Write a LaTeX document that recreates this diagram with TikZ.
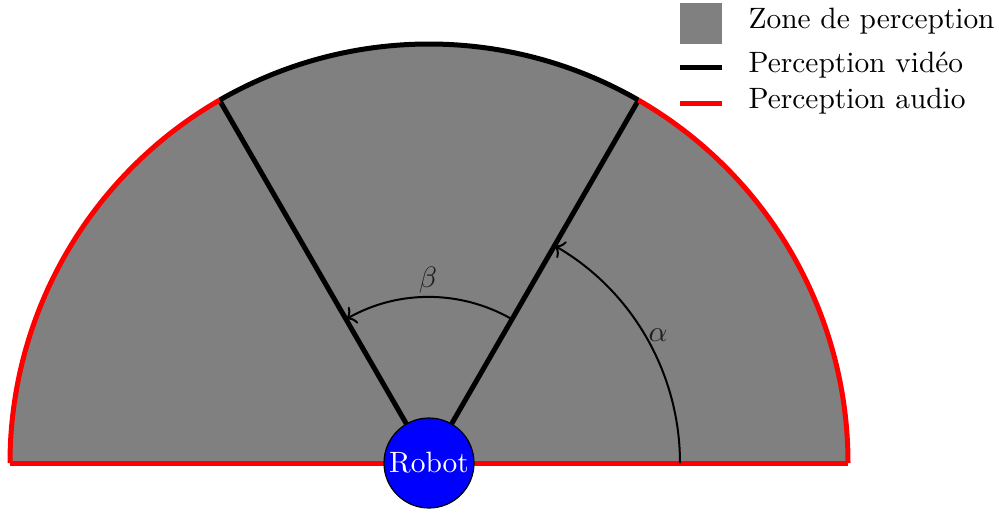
\documentclass[tikz,border=0pt]{standalone}
\usetikzlibrary{arrows.meta,calc}
\begin{document}
\begin{tikzpicture}[x=0.340pt,y=0.340pt,
  thickline/.style={line width=1.70pt},
  anglearc/.style={line width=0.68pt,->},
  lbl/.style={inner sep=0pt, anchor=base west},
  anglelbl/.style={inner sep=0pt, text=black!88}]
\useasboundingbox (0,0) rectangle (999,514);
\coordinate (C) at (429,51);
% perception zone
\fill[gray] (C) ++(419,0) arc[start angle=0,end angle=180,radius=419] -- cycle;
% video boundaries
\coordinate (v1) at ($(C)+(60:419)$);
\coordinate (v2) at ($(C)+(120:419)$);
\draw[thickline] (C) -- (v1);
\draw[thickline] (C) -- (v2);
\draw[thickline] (v1) arc[start angle=60,end angle=120,radius=419];
% audio boundaries
\draw[thickline,red] (C) ++(419,0) arc[start angle=0,end angle=60,radius=419];
\draw[thickline,red] (C) ++(-419,0) arc[start angle=180,end angle=120,radius=419];
\coordinate (bl) at (10,51);
\coordinate (br) at (848,51);
\draw[thickline,red] (bl) -- (br);
% angles
\draw[anglearc] (C) ++(251,0) arc[start angle=0,end angle=60,radius=251];
\draw[anglearc] (C) ++(60:166) arc[start angle=60,end angle=120,radius=166];
\node[anglelbl] (alpha) at (658,179) {$\alpha$};
\node[anglelbl] (beta) at (428,234) {$\beta$};
% robot
\node[circle, fill=blue, draw=black, line width=0.4pt, text=white, minimum size=30.6pt, inner sep=0pt] (robot) at (C) {Robot};
% legend
\node[fill=gray, minimum width=14.3pt, minimum height=13.9pt, inner sep=0pt] (zone) at (701,490.5) {};
\coordinate (k1) at (680,447);
\coordinate (k2) at (722,447);
\coordinate (r1) at (680,411);
\coordinate (r2) at (722,411);
\draw[thickline] (k1) -- (k2);
\draw[thickline,red] (r1) -- (r2);
\node[lbl] (t1) at (748,486) {Zone de perception};
\node[lbl] (t2) at (748,442) {Perception vidéo};
\node[lbl] (t3) at (748,406) {Perception audio};
\end{tikzpicture}
\end{document}
